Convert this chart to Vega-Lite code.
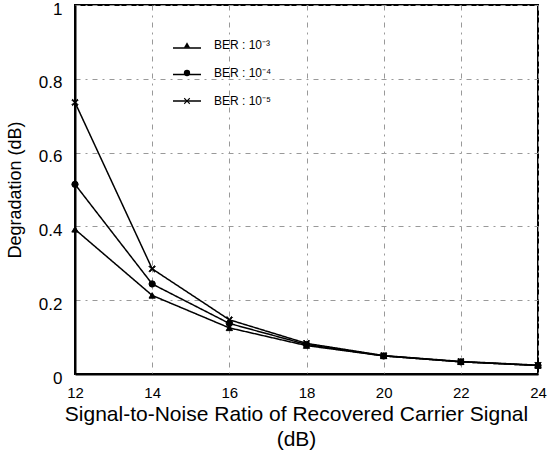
{
  "$schema": "https://vega.github.io/schema/vega-lite/v6.json",
  "width": 463,
  "height": 369,
  "autosize": "none",
  "padding": {"left": 75, "top": 5, "right": 12, "bottom": 78},
  "background": "white",
  "config": {
    "font": "Liberation Sans",
    "view": {"stroke": "black", "strokeWidth": 2},
    "legend": {"padding": 0},
    "axis": {
      "gridColor": "#999",
      "gridDash": [5, 5, 2, 5],
      "gridWidth": 1,
      "domainColor": "black",
      "domainWidth": 2,
      "ticks": false,
      "labelColor": "black",
      "titleColor": "black",
      "labelFont": "Liberation Sans",
      "titleFont": "Liberation Sans",
      "titleFontWeight": "normal",
      "labelFontSize": 15,
      "titleFontSize": 21
    }
  },
  "data": {
    "values": [
      {"snr": 12, "deg": 0.392, "ber": "BER : 10⁻³", "curve": "BER : 10⁻³"},
      {"snr": 14, "deg": 0.213, "ber": "BER : 10⁻³", "curve": "BER : 10⁻³"},
      {"snr": 16, "deg": 0.125, "ber": "BER : 10⁻³", "curve": "BER : 10⁻³"},
      {"snr": 18, "deg": 0.077, "ber": "BER : 10⁻³", "curve": "BER : 10⁻³"},
      {"snr": 20, "deg": 0.049, "ber": "BER : 10⁻³", "curve": "BER : 10⁻³"},
      {"snr": 22, "deg": 0.033, "ber": "BER : 10⁻³", "curve": "BER : 10⁻³"},
      {"snr": 24, "deg": 0.023, "ber": "BER : 10⁻³", "curve": "BER : 10⁻³"},
      {"snr": 12, "deg": 0.514, "ber": "BER : 10⁻⁴", "curve": "BER : 10⁻⁴"},
      {"snr": 14, "deg": 0.244, "ber": "BER : 10⁻⁴", "curve": "BER : 10⁻⁴"},
      {"snr": 16, "deg": 0.137, "ber": "BER : 10⁻⁴", "curve": "BER : 10⁻⁴"},
      {"snr": 18, "deg": 0.08, "ber": "BER : 10⁻⁴", "curve": "BER : 10⁻⁴"},
      {"snr": 20, "deg": 0.049, "ber": "BER : 10⁻⁴", "curve": "BER : 10⁻⁴"},
      {"snr": 22, "deg": 0.033, "ber": "BER : 10⁻⁴", "curve": "BER : 10⁻⁴"},
      {"snr": 24, "deg": 0.023, "ber": "BER : 10⁻⁴", "curve": "BER : 10⁻⁴"},
      {"snr": 12, "deg": 0.736, "ber": "BER : 10⁻⁵", "curve": "BER : 10⁻⁵"},
      {"snr": 14, "deg": 0.285, "ber": "BER : 10⁻⁵", "curve": "BER : 10⁻⁵"},
      {"snr": 16, "deg": 0.147, "ber": "BER : 10⁻⁵", "curve": "BER : 10⁻⁵"},
      {"snr": 18, "deg": 0.083, "ber": "BER : 10⁻⁵", "curve": "BER : 10⁻⁵"},
      {"snr": 20, "deg": 0.05, "ber": "BER : 10⁻⁵", "curve": "BER : 10⁻⁵"},
      {"snr": 22, "deg": 0.034, "ber": "BER : 10⁻⁵", "curve": "BER : 10⁻⁵"},
      {"snr": 24, "deg": 0.024, "ber": "BER : 10⁻⁵", "curve": "BER : 10⁻⁵"}
    ]
  },
  "encoding": {
    "x": {
      "field": "snr",
      "type": "quantitative",
      "scale": {"domain": [12, 24], "nice": false, "zero": false},
      "axis": {
        "values": [12, 14, 16, 18, 20, 22, 24],
        "labelPadding": 11,
        "labelFlush": false,
        "title": ["Signal-to-Noise Ratio of Recovered Carrier Signal", "(dB)"],
        "titleX": 221,
        "titlePadding": 3,
        "titleLineHeight": 25
      }
    },
    "y": {
      "field": "deg",
      "type": "quantitative",
      "scale": {"domain": [0, 1], "nice": false},
      "axis": {
        "values": [0, 0.2, 0.4, 0.6, 0.8, 1],
        "labelExpr": "datum.value == 0 ? '0' : datum.value == 1 ? '1' : format(datum.value, '.1f')",
        "labelFontSize": 17,
        "labelPadding": 13,
        "labelOffset": 4,
        "labelBound": false,
        "title": "Degradation (dB)",
        "titleFontSize": 18,
        "titlePadding": 14
      }
    }
  },
  "layer": [
    {
      "mark": {"type": "line", "color": "black", "strokeWidth": 1.5},
      "encoding": {
        "strokeDash": {
          "field": "curve",
          "type": "nominal",
          "scale": {"range": [[1, 0], [1, 0], [1, 0]]},
          "legend": {
            "title": null,
            "orient": "none",
            "legendX": 97,
            "legendY": 28,
            "symbolType": "stroke",
            "symbolSize": 784,
            "symbolStrokeColor": "black",
            "symbolStrokeWidth": 1.5,
            "labelFontSize": 12,
            "labelExpr": "''",
            "labelOffset": 15,
            "rowPadding": 5.5
          }
        }
      }
    },
    {
      "mark": {"type": "point", "filled": true, "color": "black", "stroke": "black", "strokeWidth": 1, "size": 40, "opacity": 1},
      "encoding": {
        "shape": {
          "field": "ber",
          "type": "nominal",
          "scale": {"range": ["triangle-up", "circle", "M-1,-0.75L-0.75,-1L0,-0.25L0.75,-1L1,-0.75L0.25,0L1,0.75L0.75,1L0,0.25L-0.75,1L-1,0.75L-0.25,0Z"]},
          "legend": {
            "title": null,
            "orient": "none",
            "legendX": 106,
            "legendY": 34,
            "symbolSize": 40,
            "symbolFillColor": "black",
            "symbolStrokeColor": "black",
            "symbolStrokeWidth": 1,
            "labelFontSize": 12,
            "labelFont": "Liberation Sans",
            "labelColor": "black",
            "labelOffset": 21,
            "rowPadding": 16
          }
        }
      }
    }
  ]
}
